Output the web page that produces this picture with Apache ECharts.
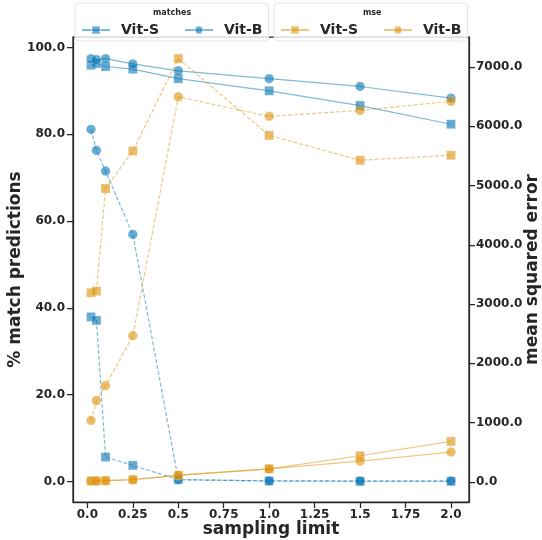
<!DOCTYPE html>
<html><head><meta charset="utf-8">
<script src="https://cdn.jsdelivr.net/npm/echarts@6/dist/echarts.min.js"></script>
<style>html,body{margin:0;padding:0;background:#fff}#c{width:542px;height:540px}</style>
</head><body><div id="c"></div>
<script>
const samplingLimits = [0.02, 0.05, 0.1, 0.25, 0.5, 1.0, 1.5, 2.0];
// % match predictions
const matchSolidS = [95.9, 96.3, 95.6, 95.0, 92.8, 90.0, 86.6, 82.3];
const matchSolidB = [97.4, 97.2, 97.4, 96.2, 94.6, 92.8, 91.0, 88.3];
const matchDashS  = [37.9, 37.1, 5.6, 3.7, 0.4, 0.1, 0.0, 0.0];
const matchDashB  = [81.1, 76.3, 71.5, 56.9, 0.4, 0.1, 0.1, 0.1];
// mean squared error
const mseSolidS = [15, 15, 20, 40, 108, 220, 440, 683];
const mseSolidB = [15, 15, 20, 35, 112, 218, 350, 503];
const mseDashS  = [3190, 3218, 4948, 5582, 7140, 5846, 5425, 5510];
const mseDashB  = [1035, 1370, 1625, 2465, 6495, 6166, 6266, 6420];
const leftTicks = [0, 20, 40, 60, 80, 100];
const rightTicks = [0, 1000, 2000, 3000, 4000, 5000, 6000, 7000];
const xTicks = [0, 0.25, 0.5, 0.75, 1.0, 1.25, 1.5, 1.75, 2.0];

const BLUE = '#0173b2', ORANGE = '#de8f05';
const FONT = 'DejaVu Sans';
const INK = '#262626';
const pairs = a => samplingLimits.map((x, i) => [x, a[i]]);

function mk(name, data, color, symbol, dashed, yIdx) {
  return {
    name, type: 'line', yAxisIndex: yIdx, data: pairs(data),
    symbol, symbolSize: symbol === 'rect' ? 9 : 9.5,
    itemStyle: { color, opacity: 0.6, borderColor: 'rgba(255,255,255,0.6)', borderWidth: 0.6 },
    lineStyle: { color, width: 1.2, opacity: 0.5, type: dashed ? [4, 2] : 'solid' },
    emphasis: { disabled: true }, animation: false, z: 3
  };
}

const chart = echarts.init(document.getElementById('c'), null, { renderer: 'canvas' });
const axisCommon = {
  axisLine: { show: true, onZero: false, lineStyle: { color: INK, width: 1.25 } },
  axisTick: { show: true, length: 6, lineStyle: { color: INK, width: 1.25 } },
  splitLine: { show: false },
  nameMoveOverlap: false,
  nameTextStyle: { fontFamily: FONT, fontWeight: 'bold', fontSize: 17, color: INK },
};
const lblCommon = { fontFamily: FONT, fontWeight: 'bold', fontSize: 12, color: INK };
const legendCommon = {
  top: 3, orient: 'horizontal', itemWidth: 28, itemHeight: 10, itemGap: 25,
  padding: [20, 6, 4, 6], borderColor: '#e6e6e6', borderWidth: 1, borderRadius: 4,
  backgroundColor: 'rgba(255,255,255,0.8)',
  formatter: n => n.split('|')[1],
  textStyle: { fontFamily: FONT, fontWeight: 'bold', fontSize: 14, color: INK, padding: [0, 0, 0, 6] },
  selectedMode: false
};
chart.setOption({
  animation: false,
  backgroundColor: '#fff',
  grid: { left: 73, right: 73, top: 37, bottom: 38, show: true, borderColor: INK, borderWidth: 1.25,
          containLabel: false, outerBoundsMode: 'none' },
  legend: [
    Object.assign({}, legendCommon, { left: 75, data: ['m|Vit-S', 'm|Vit-B'] }),
    Object.assign({}, legendCommon, { left: 274, data: ['e|Vit-S', 'e|Vit-B'] })
  ],
  graphic: [
    { type: 'text', left: 153, top: 9, z: 100, style: { text: 'matches', fontFamily: FONT, fontWeight: 'bold', fontSize: 8, fill: INK } },
    { type: 'text', left: 363, top: 9, z: 100, style: { text: 'mse', fontFamily: FONT, fontWeight: 'bold', fontSize: 8, fill: INK } }
  ],
  xAxis: Object.assign({}, axisCommon, {
    type: 'value', min: -0.079, max: 2.099,
    name: 'sampling limit', nameLocation: 'middle', nameGap: 19,
    axisTick: Object.assign({}, axisCommon.axisTick, { customValues: xTicks }),
    axisLabel: Object.assign({}, lblCommon, { margin: 7, customValues: xTicks,
      formatter: v => { const s = String(+v.toFixed(2)); return s.indexOf('.') < 0 ? s + '.0' : s; } })
  }),
  yAxis: [
    Object.assign({}, axisCommon, {
      type: 'value', position: 'left', min: -4.75, max: 102.4,
      name: '% match predictions', nameLocation: 'middle', nameGap: 49,
      axisTick: Object.assign({}, axisCommon.axisTick, { customValues: leftTicks }),
      axisLabel: Object.assign({}, lblCommon, { margin: 8, customValues: leftTicks, formatter: v => v.toFixed(1) })
    }),
    Object.assign({}, axisCommon, {
      type: 'value', position: 'right', min: -340, max: 7505,
      name: 'mean squared error', nameLocation: 'middle', nameGap: 55, nameRotate: 90,
      axisTick: Object.assign({}, axisCommon.axisTick, { customValues: rightTicks }),
      axisLabel: Object.assign({}, lblCommon, { margin: 7, customValues: rightTicks, formatter: v => v.toFixed(1) })
    })
  ],
  series: [
    mk('m|Vit-S', matchSolidS, BLUE, 'rect', false, 0),
    mk('m|Vit-B', matchSolidB, BLUE, 'circle', false, 0),
    mk('m2|Vit-S', matchDashS, BLUE, 'rect', true, 0),
    mk('m2|Vit-B', matchDashB, BLUE, 'circle', true, 0),
    mk('e|Vit-S', mseSolidS, ORANGE, 'rect', false, 1),
    mk('e|Vit-B', mseSolidB, ORANGE, 'circle', false, 1),
    mk('e2|Vit-S', mseDashS, ORANGE, 'rect', true, 1),
    mk('e2|Vit-B', mseDashB, ORANGE, 'circle', true, 1)
  ]
});
</script></body></html>
